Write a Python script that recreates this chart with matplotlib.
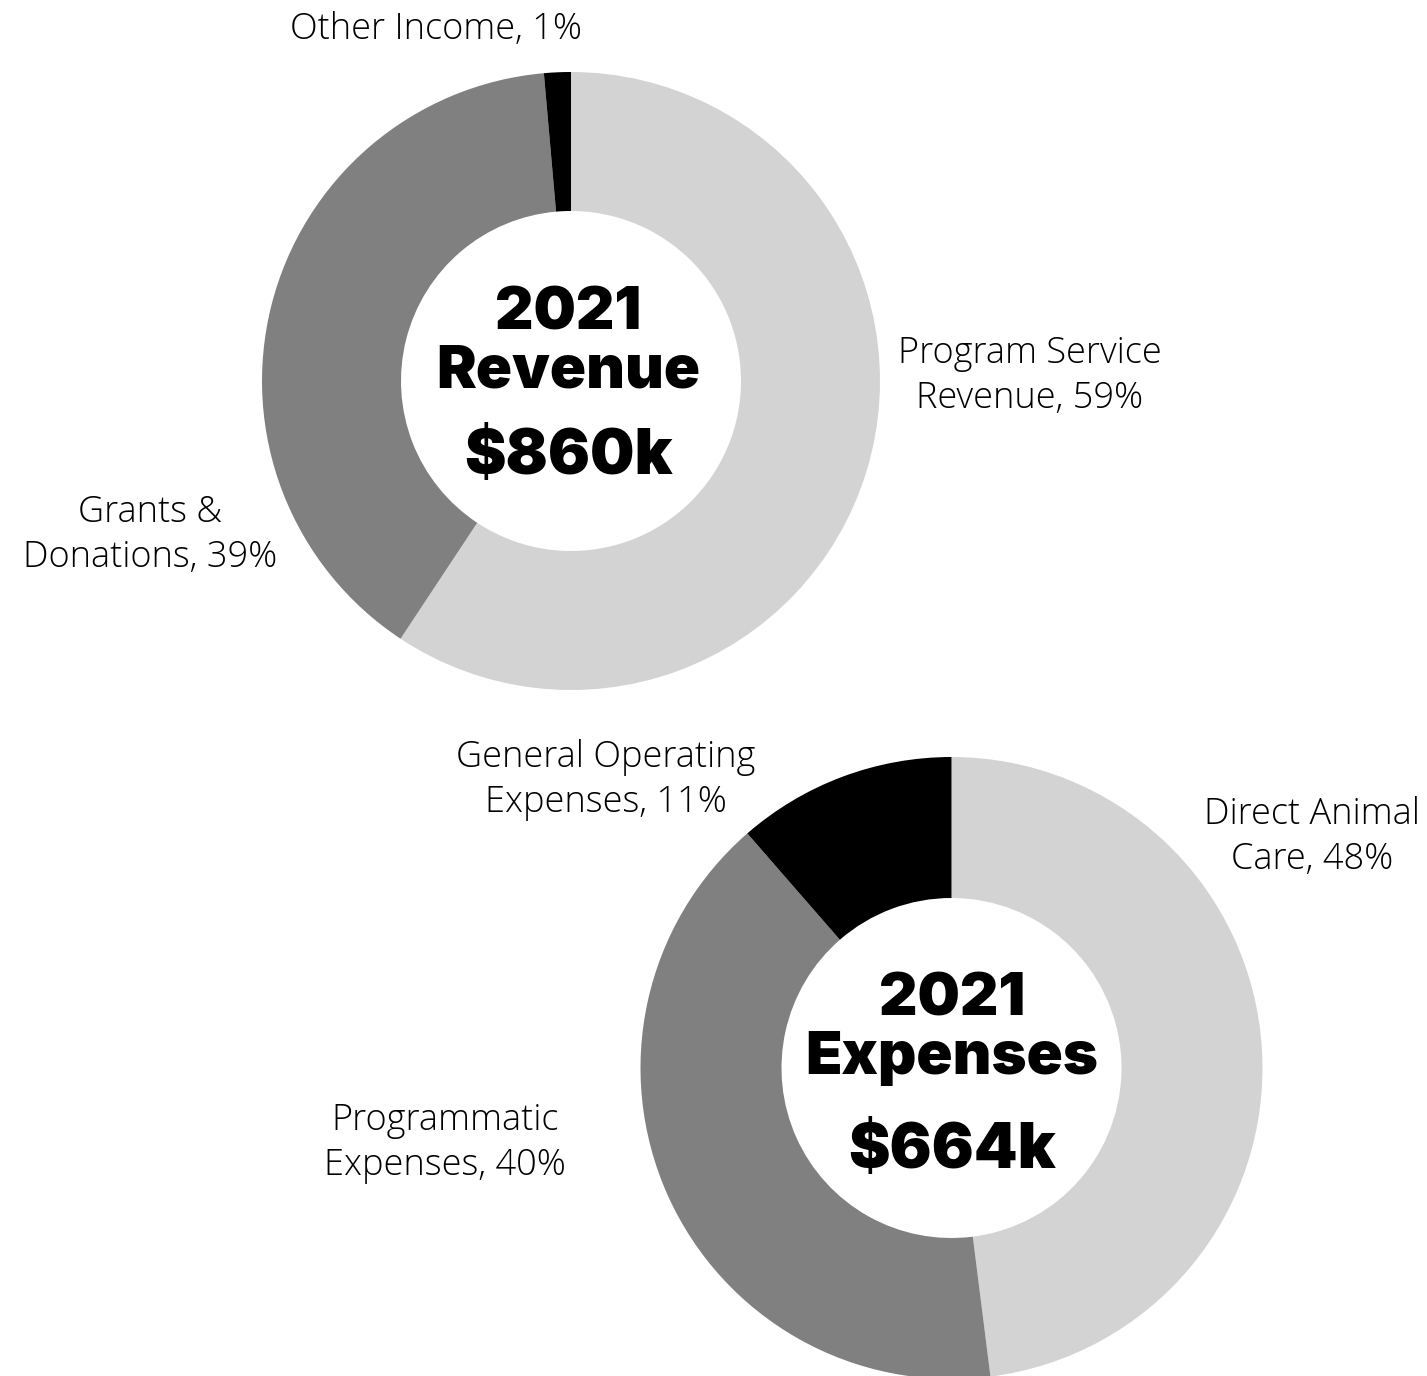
import matplotlib.pyplot as plt

# canvas size in pixels (dpi 100)
W, H = 1427, 1376

# ---- data -------------------------------------------------------------
rev_labels = ['Program Service\nRevenue, 59%', 'Grants &\nDonations, 39%', 'Other Income, 1%']
rev_values = [59.3, 39.3, 1.4]
rev_title = ['2021', 'Revenue']
rev_total = '$860k'

exp_labels = ['Direct Animal\nCare, 48%', 'Programmatic\nExpenses, 40%', 'General Operating\nExpenses, 11%']
exp_values = [48.0, 40.6, 11.4]
exp_title = ['2021', 'Expenses']
exp_total = '$664k'

colors = ['#d3d3d3', '#808080', '#000000']

LIGHT = dict(family=['Open Sans', 'DejaVu Sans'], weight='light')
HEAVY = dict(family=['Inter', 'DejaVu Sans'], weight='black')

fig = plt.figure(figsize=(W / 100, H / 100), dpi=100)
ax = fig.add_axes([0, 0, 1, 1])


def donut(vals, cx, cy, r_out, r_in):
    # cx, cy in image pixels (y down) -> data coords (y up)
    ax.pie(vals, colors=colors, startangle=90, counterclock=False,
           center=(cx, H - cy), radius=r_out,
           wedgeprops=dict(width=r_out - r_in, linewidth=0, antialiased=True))


def label(txt, x, y, size=26):
    ax.text(x, H - y, txt, ha='center', va='center', multialignment='center',
            fontsize=size, linespacing=1.3, color='black', **LIGHT)


def center_text(title, total, cx, baselines, size_t=43, size_v=45):
    ax.text(cx, H - baselines[0], title[0], ha='center', va='baseline', fontsize=size_t, **HEAVY)
    ax.text(cx, H - baselines[1], title[1], ha='center', va='baseline', fontsize=size_t, **HEAVY)
    ax.text(cx, H - baselines[2], total, ha='center', va='baseline', fontsize=size_v, **HEAVY)


# Revenue ---------------------------------------------------------------
donut(rev_values, 571, 381, 309, 170)
label(rev_labels[0], 1030, 376)
label(rev_labels[1], 150, 535)
label(rev_labels[2], 436, 30)
center_text(rev_title, rev_total, 568, [329, 388, 474])

# Expenses --------------------------------------------------------------
donut(exp_values, 951.5, 1068, 311, 170)
label(exp_labels[0], 1312, 837)
label(exp_labels[1], 445, 1143)
label(exp_labels[2], 606, 780)
center_text(exp_title, exp_total, 952, [1016, 1074, 1168])

ax.set_xlim(0, W)
ax.set_ylim(0, H)
ax.set_aspect('auto')
ax.axis('off')

fig.savefig('out.png', dpi=100, facecolor='white')
